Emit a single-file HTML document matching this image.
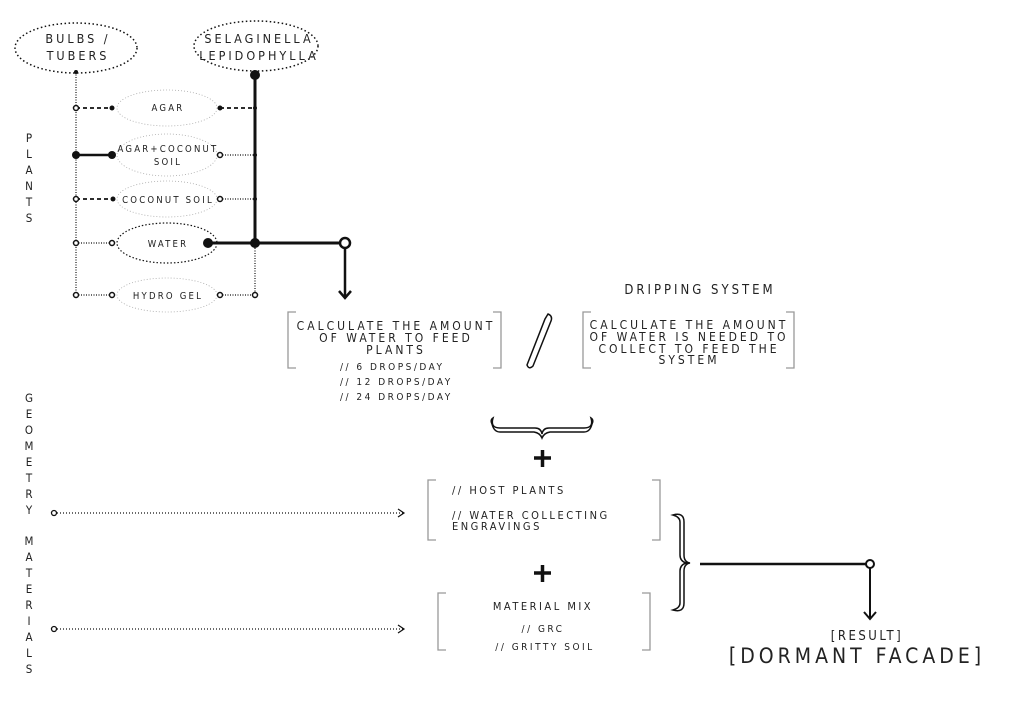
<!DOCTYPE html>
<html><head><meta charset="utf-8"><style>
body{margin:0;background:#fff}
svg{display:block}
text{font-family:"DejaVu Sans Condensed","Liberation Sans",sans-serif;fill:#222}
</style></head><body>
<svg width="1024" height="724" viewBox="0 0 1024 724" xmlns="http://www.w3.org/2000/svg">
<g fill="none" stroke="#111">
<ellipse cx="76" cy="48" rx="61" ry="25" stroke-dasharray="1.5 2.5" stroke-width="1.5"/>
<ellipse cx="256" cy="46" rx="62" ry="25" stroke-dasharray="1.5 2.5" stroke-width="1.5"/>
<g stroke="#aaa" stroke-dasharray="1 2" stroke-width="0.8">
<ellipse cx="167" cy="108" rx="50" ry="18"/>
<ellipse cx="167" cy="155" rx="50" ry="21"/>
<ellipse cx="167" cy="199" rx="50" ry="18"/>
<ellipse cx="167" cy="295" rx="50" ry="17"/>
</g>
<ellipse cx="167" cy="243" rx="50" ry="20" stroke-dasharray="1.5 2" stroke-width="1.2"/>
<line x1="76" y1="72" x2="76" y2="296" stroke-dasharray="1 1.5" stroke-width="1.2"/>
<line x1="255" y1="75" x2="255" y2="243" stroke-width="3"/>
<line x1="255" y1="243" x2="255" y2="295" stroke-dasharray="1 1.5" stroke-width="1.2"/>
<line x1="76" y1="108" x2="112" y2="108" stroke-dasharray="4 3" stroke-width="1.8"/>
<line x1="220" y1="108" x2="255" y2="108" stroke-dasharray="4 3" stroke-width="1.8"/>
<line x1="76" y1="155" x2="112" y2="155" stroke-width="2.5"/>
<line x1="220" y1="155" x2="255" y2="155" stroke-dasharray="1 1.5" stroke-width="1.2"/>
<line x1="76" y1="199" x2="113" y2="199" stroke-dasharray="4 3" stroke-width="1.8"/>
<line x1="220" y1="199" x2="255" y2="199" stroke-dasharray="1 1.5" stroke-width="1.2"/>
<line x1="76" y1="243" x2="112" y2="243" stroke-dasharray="1 1.5" stroke-width="1.2"/>
<line x1="208" y1="243" x2="341" y2="243" stroke-width="3"/>
<line x1="345" y1="247" x2="345" y2="298" stroke-width="2.5"/>
<polyline points="339,291 345,298 351,291" stroke-width="2.5"/>
<line x1="76" y1="295" x2="112" y2="295" stroke-dasharray="1 1.5" stroke-width="1.2"/>
<line x1="220" y1="295" x2="255" y2="295" stroke-dasharray="1 1.5" stroke-width="1.2"/>
</g>
<g fill="#111">
<circle cx="76" cy="72" r="2"/>
<circle cx="255" cy="75" r="5"/>
<circle cx="112" cy="108" r="2.5"/><circle cx="220" cy="108" r="2.5"/><circle cx="255" cy="108" r="2"/>
<circle cx="76" cy="155" r="4"/><circle cx="112" cy="155" r="4"/><circle cx="255" cy="155" r="2"/>
<circle cx="113" cy="199" r="2.5"/><circle cx="255" cy="199" r="2"/>
<circle cx="208" cy="243" r="5"/><circle cx="255" cy="243" r="5"/>
</g>
<g fill="#fff" stroke="#111" stroke-width="1.5">
<circle cx="76" cy="108" r="2.5"/>
<circle cx="220" cy="155" r="2.5"/>
<circle cx="76" cy="199" r="2.5"/><circle cx="220" cy="199" r="2.5"/>
<circle cx="76" cy="243" r="2.5"/><circle cx="112" cy="243" r="2.5"/>
<circle cx="345" cy="243" r="5" stroke-width="2.5"/>
<circle cx="76" cy="295" r="2.5"/><circle cx="112" cy="295" r="2.5"/><circle cx="220" cy="295" r="2.5"/><circle cx="255" cy="295" r="2.5"/>
</g>
<g font-size="12.5" text-anchor="middle" letter-spacing="3">
<text x="78" y="43">BULBS /</text><text x="78" y="60">TUBERS</text>
<text x="259" y="43">SELAGINELLA</text><text x="259" y="60">LEPIDOPHYLLA</text>
</g>
<g font-size="9.5" text-anchor="middle" letter-spacing="2.2">
<text x="168" y="111">AGAR</text>
<text x="168" y="152">AGAR+COCONUT</text><text x="168" y="165">SOIL</text>
<text x="168" y="203">COCONUT SOIL</text>
<text x="168" y="247">WATER</text>
<text x="168" y="299">HYDRO GEL</text>
</g>
<g font-size="11.5" text-anchor="middle">
<text x="29" y="142">P</text><text x="29" y="158">L</text><text x="29" y="174">A</text><text x="29" y="190">N</text><text x="29" y="206">T</text><text x="29" y="222">S</text>
<text x="29" y="402">G</text><text x="29" y="418">E</text><text x="29" y="434">O</text><text x="29" y="450">M</text><text x="29" y="466">E</text><text x="29" y="482">T</text><text x="29" y="498">R</text><text x="29" y="514">Y</text>
<text x="29" y="545">M</text><text x="29" y="561">A</text><text x="29" y="577">T</text><text x="29" y="593">E</text><text x="29" y="609">R</text><text x="29" y="625">I</text><text x="29" y="641">A</text><text x="29" y="657">L</text><text x="29" y="673">S</text>
</g>
<g fill="none" stroke="#999" stroke-width="1.3">
<path d="M296,312 h-8 v56 h8"/><path d="M493,312 h8 v56 h-8"/>
<path d="M591,312 h-8 v56 h8"/><path d="M786,312 h8 v56 h-8"/>
<path d="M436,480 h-8 v60 h8"/><path d="M652,480 h8 v60 h-8"/>
<path d="M446,593 h-8 v57 h8"/><path d="M642,593 h8 v57 h-8"/>
</g>
<path d="M548,314 Q553,316 551,321 L533,366 Q529,370 527,365 L545,319 Z" fill="none" stroke="#111" stroke-width="1.5"/>
<path d="M493,418 Q490,428 500,428 L535,428 Q541,428 542,434 Q543,428 549,428 L584,428 Q594,428 591,418 Q594,420 592,424 Q590,432 584,432 L550,432 Q544,433 542,438 Q540,433 534,432 L500,432 Q494,432 492,424 Q490,420 493,418 Z" fill="none" stroke="#111" stroke-width="1.5"/>
<path d="M673,515 Q684,512 684,522 L684,555 Q684,562 690,563 Q684,564 684,571 L684,603 Q684,613 673,610 Q680,608 680,603 L680,571 Q680,565 686,563 Q680,561 680,555 L680,522 Q680,517 673,515 Z" fill="none" stroke="#111" stroke-width="1.5"/>
<g stroke="#111" stroke-width="3.5">
<line x1="534" y1="458" x2="551" y2="458"/><line x1="542.5" y1="450" x2="542.5" y2="467"/>
<line x1="534" y1="573" x2="551" y2="573"/><line x1="542.5" y1="565" x2="542.5" y2="582"/>
</g>
<g stroke="#111" fill="none">
<line x1="700" y1="564" x2="866" y2="564" stroke-width="2.5"/>
<circle cx="870" cy="564" r="4" fill="#fff" stroke-width="2"/>
<line x1="870" y1="568" x2="870" y2="619" stroke-width="2"/>
<polyline points="864,612 870,619 876,612" stroke-width="2"/>
<line x1="57" y1="513" x2="403" y2="513" stroke-dasharray="1 2" stroke-width="1.3"/>
<polyline points="398,509 404,513 398,517" stroke-width="1.2"/>
<line x1="57" y1="629" x2="403" y2="629" stroke-dasharray="1 2" stroke-width="1.3"/>
<polyline points="398,625 404,629 398,633" stroke-width="1.2"/>
</g>
<circle cx="54" cy="513" r="2.5" fill="#fff" stroke="#111" stroke-width="1.3"/>
<circle cx="54" cy="629" r="2.5" fill="#fff" stroke="#111" stroke-width="1.3"/>
<g font-size="12" text-anchor="middle" letter-spacing="3">
<text x="700" y="294" font-size="13">DRIPPING SYSTEM</text>
<text x="396" y="330">CALCULATE THE AMOUNT</text>
<text x="396" y="342">OF WATER TO FEED</text>
<text x="396" y="354">PLANTS</text>
<text x="689" y="329">CALCULATE THE AMOUNT</text>
<text x="689" y="341">OF WATER IS NEEDED TO</text>
<text x="689" y="353">COLLECT TO FEED THE</text>
<text x="689" y="364">SYSTEM</text>
</g>
<g font-size="10" letter-spacing="2.5">
<text x="340" y="370">// 6 DROPS/DAY</text>
<text x="340" y="385">// 12 DROPS/DAY</text>
<text x="340" y="400">// 24 DROPS/DAY</text>
<text x="452" y="494" font-size="11">// HOST PLANTS</text>
<text x="452" y="519" font-size="11">// WATER COLLECTING</text>
<text x="452" y="530" font-size="11">ENGRAVINGS</text>
</g>
<g font-size="10" letter-spacing="2.5" text-anchor="middle">
<text x="543" y="610" font-size="11">MATERIAL MIX</text>
<text x="543" y="632">// GRC</text>
<text x="545" y="650">// GRITTY SOIL</text>
<text x="867" y="640" font-size="13">[RESULT]</text>
<text x="857" y="663" font-size="21" letter-spacing="4">[DORMANT FACADE]</text>
</g>
</svg>
</body></html>
